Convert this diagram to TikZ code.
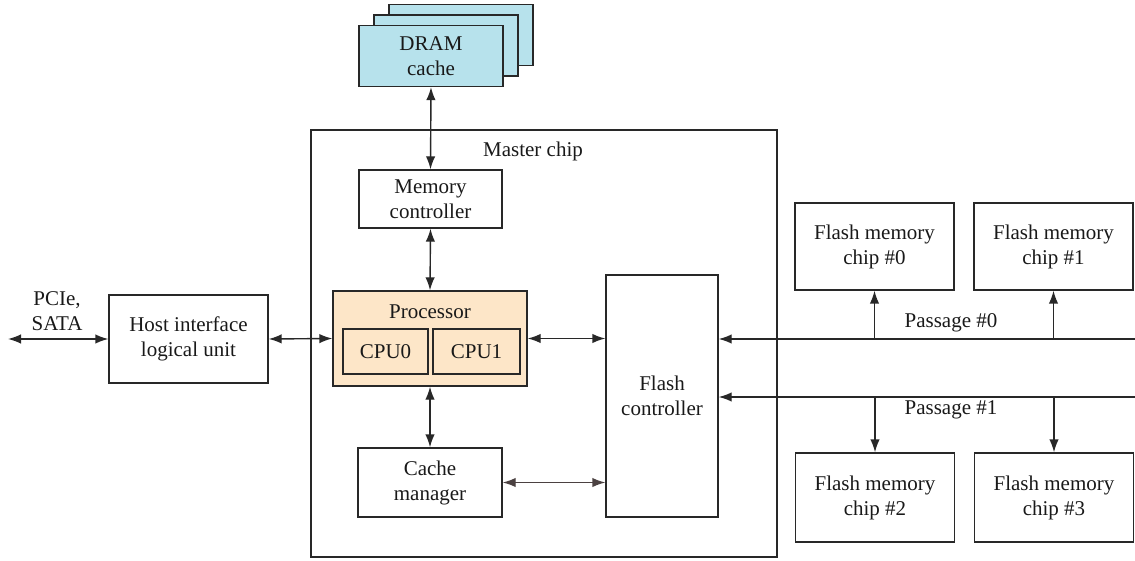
\documentclass[tikz,border=0pt]{standalone}
\usepackage{fontspec}
\setmainfont{Liberation Serif}
\usetikzlibrary{arrows.meta}
\definecolor{lc}{RGB}{40,40,40}
\definecolor{dramblue}{RGB}{183,226,236}
\definecolor{procfill}{RGB}{253,230,200}
\definecolor{brn}{RGB}{75,65,65}
\tikzset{
  box/.style={draw=lc, line width=1.4pt, align=center, inner sep=0pt,
    font=\fontsize{21}{25}\selectfont, text=black!90},
  lbl/.style={align=center, inner sep=0pt, font=\fontsize{21}{25}\selectfont, text=black!90},
  tip/.tip={Latex[length=13pt,width=9.5pt]},
  arr/.style={draw=lc, line width=1.4pt, -tip},
  darr/.style={draw=lc, line width=1.4pt, tip-tip},
  ln/.style={draw=lc, line width=1.4pt}
}
\begin{document}
\begin{tikzpicture}[x=1pt,y=-1pt]
\useasboundingbox (0,0) rectangle (1135,561);
% DRAM stack
\node[box, fill=dramblue, minimum width=144pt, minimum height=61pt] (dram3) at (461,35) {};
\node[box, fill=dramblue, minimum width=144pt, minimum height=61pt] (dram2) at (446,45.5) {};
\node[box, fill=dramblue, minimum width=144pt, minimum height=61pt] (dram) at (431,56) {DRAM\\cache};
% master chip
\node[box, minimum width=466pt, minimum height=427pt] (master) at (544,343.5) {};
\node[lbl] (mlabel) at (533,151) {Master chip};
\node[box, minimum width=143pt, minimum height=58pt] (memctl) at (430.5,199) {Memory\\controller};
\node[box, fill=procfill, minimum width=194pt, minimum height=95pt] (proc) at (430,338.5) {};
\node[lbl] (plabel) at (430,312) {Processor};
\node[box, minimum width=85pt, minimum height=45pt] (cpu0) at (385.5,351.5) {CPU0};
\node[box, minimum width=87pt, minimum height=45pt] (cpu1) at (476.5,351.5) {CPU1};
\node[box, minimum width=144pt, minimum height=69pt] (cache) at (430,482.5) {Cache\\manager};
\node[box, minimum width=112pt, minimum height=242pt] (flashc) at (662,396) {Flash\\controller};
% host
\node[box, minimum width=159pt, minimum height=88pt] (host) at (188.5,339) {Host interface\\logical unit};
\node[lbl] (pcie) at (57,311) {PCIe,\\SATA};
\coordinate (left) at (8,339);
% flash chips
\node[box, minimum width=159pt, minimum height=87pt] (chip0) at (874.5,246.5) {Flash memory\\chip \#0};
\node[box, minimum width=159pt, minimum height=87pt] (chip1) at (1053.5,246.5) {Flash memory\\chip \#1};
\node[box, minimum width=159pt, minimum height=89pt] (chip2) at (875,497.5) {Flash memory\\chip \#2};
\node[box, minimum width=159pt, minimum height=89pt] (chip3) at (1054,497.5) {Flash memory\\chip \#3};
% connectors
\draw[darr] (dram.south) -- (memctl.north);
\draw[darr] (memctl.south) -- (proc.north);
\draw[darr] (proc.south) -- (cache.north);
\draw[darr] (left) -- (host.west);
\draw[darr] (host.east) -- (proc.west);
\draw[darr] (proc.east) -- (flashc.west |- proc.east);
\draw[darr, draw=brn, fill=brn] (cache.east) -- (flashc.west |- cache.east);
% passages
\coordinate (p0) at (1135,339);
\coordinate (p1) at (1135,397);
\draw[arr] (p0) -- (flashc.east |- p0);
\draw[arr] (p1) -- (flashc.east |- p1);
\draw[arr] (chip0.south |- p0) -- (chip0.south);
\draw[arr] (chip1.south |- p0) -- (chip1.south);
\draw[arr] (chip2.north |- p1) -- (chip2.north);
\draw[arr] (chip3.north |- p1) -- (chip3.north);
\node[lbl] (pass0) at (951,323) {Passage \#0};
\node[lbl] (pass1) at (951,410) {Passage \#1};
\end{tikzpicture}
\end{document}
